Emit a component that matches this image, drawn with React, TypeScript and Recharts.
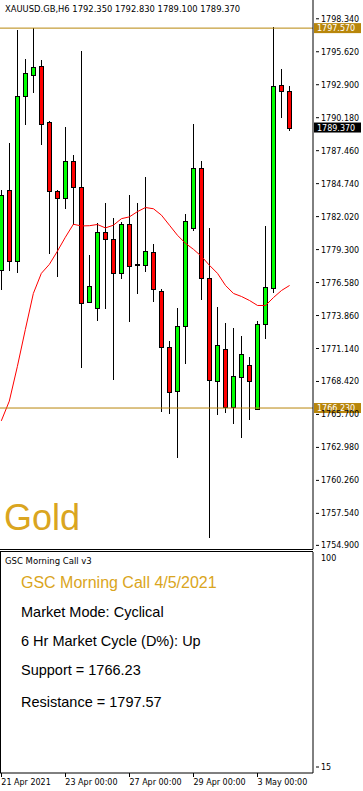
import React from 'react';
import { ComposedChart, Bar, Line, XAxis, YAxis, ReferenceLine } from 'recharts';

const opens = [1777.64, 1784.18, 1778.39, 1791.96, 1793.7, 1794.45, 1789.81, 1784.1, 1783.52, 1786.58, 1784.43, 1774.96, 1774.46, 1780.71, 1780.21, 1777.39, 1781.45, 1778.11, 1778.06, 1779.13, 1775.9, 1771.27, 1767.62, 1773.01, 1781.12, 1786.0, 1776.98, 1768.45, 1771.1, 1766.3, 1768.78, 1769.78, 1766.14, 1773.17, 1776.15, 1792.87, 1792.35];
const highs = [1784.21, 1788.07, 1797.45, 1795.03, 1797.59, 1794.94, 1789.92, 1784.21, 1789.4, 1787.1, 1795.71, 1778.83, 1781.53, 1783.11, 1781.89, 1781.56, 1783.77, 1783.11, 1785.26, 1779.79, 1776.07, 1771.79, 1774.52, 1782.22, 1789.67, 1786.61, 1781.06, 1774.6, 1773.28, 1772.84, 1772.15, 1770.47, 1773.44, 1781.23, 1797.64, 1794.2, 1792.83];
const lows = [1775.93, 1777.53, 1777.36, 1789.61, 1792.18, 1787.96, 1778.97, 1777.03, 1782.61, 1781.31, 1769.5, 1774.9, 1773.39, 1774.38, 1768.54, 1776.9, 1773.3, 1775.66, 1777.44, 1774.96, 1765.94, 1765.77, 1762.13, 1769.83, 1780.81, 1775.13, 1755.51, 1765.64, 1765.8, 1764.94, 1763.73, 1765.22, 1766.1, 1771.93, 1775.71, 1790.19, 1789.1];
const closes = [1783.79, 1778.39, 1791.96, 1793.87, 1794.36, 1789.7, 1784.1, 1783.52, 1786.58, 1784.43, 1774.91, 1776.26, 1780.71, 1780.21, 1777.36, 1781.45, 1777.97, 1778.11, 1779.21, 1776.07, 1771.27, 1767.54, 1773.01, 1781.62, 1786.0, 1776.98, 1768.54, 1771.43, 1766.3, 1768.87, 1770.71, 1768.45, 1773.17, 1776.18, 1792.79, 1792.38, 1789.37];
const maValues = [1765.17, 1766.8, 1769.64, 1772.7, 1775.68, 1777.34, 1778.08, 1779.16, 1780.32, 1781.39, 1781.25, 1781.27, 1781.37, 1781.09, 1781.31, 1781.85, 1782.0, 1782.43, 1782.77, 1782.67, 1782.14, 1781.31, 1780.48, 1779.82, 1779.32, 1778.74, 1778.0, 1777.34, 1776.34, 1775.68, 1775.43, 1775.1, 1774.69, 1774.69, 1775.35, 1775.93, 1776.34];

const priceTicks = [1798.34, 1795.62, 1792.9, 1790.18, 1787.46, 1784.74, 1782.02, 1779.3, 1776.58, 1773.86, 1771.14, 1768.42, 1765.7, 1762.98, 1760.26, 1757.54, 1754.9];
const timeTickIndex = [0, 8, 16, 24, 32];
const timeTickLabels = ['21 Apr 2021', '23 Apr 00:00', '27 Apr 00:00', '29 Apr 00:00', '3 May 00:00'];
const oscTicks = [15, 100];

const resistance = 1797.57;
const support = 1766.23;
const lastPrice = 1789.37;

const headerText = 'XAUUSD.GB,H6  1792.350 1792.830 1789.100 1789.370';
const indicatorName = 'GSC Morning Call v3';
const titleText = 'GSC Morning Call 4/5/2021';
const infoLines = ['Market Mode: Cyclical', '6 Hr Market Cycle (D%): Up', 'Support = 1766.23', 'Resistance = 1797.57'];
const symbolText = 'Gold';

const data = opens.map((o, i) => ({
  i,
  o,
  h: highs[i],
  l: lows[i],
  c: closes[i],
  range: [lows[i], highs[i]],
  ma: maValues[i],
}));

const X_DOMAIN: [number, number] = [-0.1625, 38.925];
const GOLD_LINE = '#B8860B';
const GOLD_TEXT = '#DAA520';
const AXIS_FONT = '"DejaVu Sans", Tahoma, sans-serif';
const ARIAL = '"Liberation Sans", Arial, sans-serif';

const Candle = (props: any) => {
  const { x, y, width, height, payload } = props;
  if (payload == null || x == null) return null;
  const { o, h, l, c } = payload;
  const py = (v: number) => y + ((h - v) / (h - l)) * height;
  const cx = Math.floor(x + width / 2) + 0.5;
  const top = Math.round(py(Math.max(o, c))) + 0.5;
  const bot = Math.round(py(Math.min(o, c))) + 0.5;
  const isDoji = Math.abs(o - c) < 0.02;
  const fill = c >= o ? '#00FF00' : '#FF0000';
  return (
    <g shapeRendering="crispEdges">
      <line x1={cx} x2={cx} y1={y} y2={y + height} stroke="#000" strokeWidth={1} />
      {isDoji ? (
        <rect x={cx - 2.5} y={top - 1} width={5} height={2} fill="#000" />
      ) : (
        <rect x={cx - 2.5} y={top} width={4} height={Math.max(bot - top, 1)} fill={fill} stroke="#000" strokeWidth={1} />
      )}
    </g>
  );
};

const PriceTick = (props: any) => {
  const { x, y, payload } = props;
  return (
    <g>
      <line x1={x - 5} x2={x - 2} y1={y} y2={y} stroke="#000" />
      <text x={x} y={y + 3} fontSize={8} fontFamily={AXIS_FONT} fill="#000">
        {payload.value.toFixed(3)}
      </text>
    </g>
  );
};

const priceBox = (bg: string, text: string) => (props: any) => {
  const vb = props.viewBox || {};
  const right = (vb.x || 0) + (vb.width || 0);
  const yy = vb.y || 0;
  return (
    <g>
      <rect x={right + 1} y={yy - 5} width={47} height={10} fill={bg} />
      <text x={right + 4} y={yy + 3} fontSize={8} fontFamily={AXIS_FONT} fill="#FFFFFF">
        {text}
      </text>
    </g>
  );
};

const TimeTick = (props: any) => {
  const { x, y, payload } = props;
  const axisY = y - 8;
  return (
    <g>
      <line x1={x} x2={x} y1={axisY} y2={axisY + 4} stroke="#000" shapeRendering="crispEdges" />
      <text x={x} y={axisY + 12} fontSize={8} fontFamily={AXIS_FONT} fill="#000">
        {timeTickLabels[timeTickIndex.indexOf(payload.value)] ?? ''}
      </text>
    </g>
  );
};

const OscTick = (props: any) => {
  const { x, y, payload } = props;
  const isTop = payload.value === 100;
  const ty = isTop ? y + 6 : y - 6;
  return (
    <g>
      {!isTop && <line x1={x - 5} x2={x - 2} y1={ty} y2={ty} stroke="#000" />}
      <text x={x} y={ty + 3} fontSize={8} fontFamily={AXIS_FONT} fill="#000">
        {payload.value}
      </text>
    </g>
  );
};

export default function App() {
  return (
    <div style={{ position: 'absolute', left: 0, top: 0, width: 363, height: 791, background: '#fff', overflow: 'hidden' }}>
      <div style={{ position: 'absolute', left: 0, top: 0 }}>
        <ComposedChart width={363} height={549} data={data} margin={{ top: 0, right: 0, left: 0, bottom: 0 }}>
          <XAxis dataKey="i" type="number" domain={X_DOMAIN} hide allowDataOverflow />
          <YAxis
            orientation="right"
            width={50}
            domain={[1754.6, 1799.89]}
            allowDataOverflow
            ticks={priceTicks}
            interval={0}
            tickLine={false}
            tick={<PriceTick />}
            axisLine={{ stroke: '#000' }}
          />
          <Line dataKey="ma" stroke="#FF0000" strokeWidth={1} dot={false} activeDot={false} isAnimationActive={false} type="linear" />
          <Bar dataKey="range" barSize={6} shape={<Candle />} isAnimationActive={false} />
          <ReferenceLine y={resistance} stroke={GOLD_LINE} strokeWidth={1} label={priceBox(GOLD_LINE, '1797.570')} />
          <ReferenceLine y={support} stroke={GOLD_LINE} strokeWidth={1} label={priceBox(GOLD_LINE, '1766.230')} />
          <ReferenceLine y={lastPrice} stroke="none" label={priceBox('#000000', '1789.370')} />
        </ComposedChart>
      </div>
      <div style={{ position: 'absolute', left: 0, top: 551 }}>
        <ComposedChart width={363} height={239} data={data} margin={{ top: 1, right: 0, left: 0, bottom: 0 }}>
          <XAxis
            dataKey="i"
            type="number"
            domain={X_DOMAIN}
            allowDataOverflow
            ticks={timeTickIndex}
            interval={0}
            height={17}
            tickLine={false}
            tick={<TimeTick />}
            axisLine={{ stroke: '#000' }}
          />
          <YAxis
            orientation="right"
            width={50}
            domain={[15, 100]}
            allowDataOverflow
            ticks={oscTicks}
            interval={0}
            tickLine={false}
            tick={<OscTick />}
            axisLine={{ stroke: '#000' }}
          />
        </ComposedChart>
      </div>
      <svg width={363} height={791} style={{ position: 'absolute', left: 0, top: 0, pointerEvents: 'none' }}>
        <line x1={0} x2={313} y1={549.5} y2={549.5} stroke="#000" />
        <line x1={0} x2={313} y1={551.5} y2={551.5} stroke="#000" />
        <line x1={0.5} x2={0.5} y1={551.5} y2={773} stroke="#000" />
        <text x={5} y={12} fontSize={8.4} fontFamily={AXIS_FONT} fill="#000">{headerText}</text>
        <text x={4} y={530} fontSize={36} fontFamily={ARIAL} fill={GOLD_TEXT}>{symbolText}</text>
        <text x={5} y={564} fontSize={8.5} fontFamily={AXIS_FONT} fill="#000">{indicatorName}</text>
        <text x={21} y={588} fontSize={16} fontFamily={ARIAL} fill={GOLD_TEXT}>{titleText}</text>
        {infoLines.map((t, k) => (
          <text key={k} x={21} y={[616.5, 646, 675, 706.5][k]} fontSize={14.5} fontFamily={ARIAL} fill="#000">{t}</text>
        ))}
      </svg>
    </div>
  );
}
